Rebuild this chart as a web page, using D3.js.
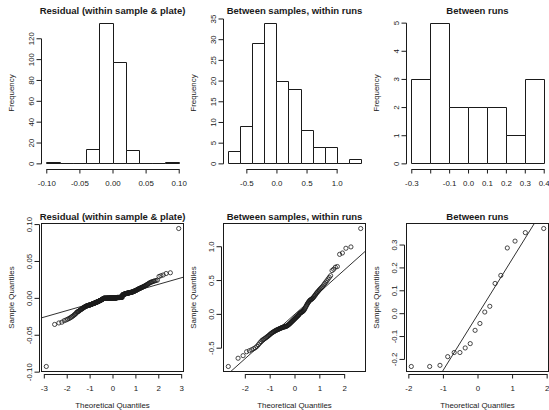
<!DOCTYPE html>
<html>
<head>
<meta charset="utf-8">
<script src="https://cdn.jsdelivr.net/npm/d3@7"></script>
<style>
  body { margin: 0; background: #fff; }
  svg { display: block; font-family: "Liberation Sans", Arial, sans-serif; opacity: 0.999; }
</style>
</head>
<body>
<svg width="549" height="410"></svg>
<script>
// residuals within sample & plate (n = 261)
const residual = [
  -0.0930,
  -0.0360, -0.0340, -0.0330, -0.0310, -0.0300, -0.0290, -0.0280, -0.0270, -0.0260, -0.0250, -0.0240, -0.0230, -0.0220, -0.0210,
  -0.0195, -0.0190, -0.0185, -0.0180, -0.0172, -0.0165, -0.0160, -0.0155, -0.0150, -0.0145, -0.0140, -0.0135, -0.0130, -0.0126,
  -0.0122, -0.0119, -0.0116, -0.0113, -0.0110, -0.0108, -0.0106, -0.0104, -0.0102, -0.0100, -0.0099, -0.0098, -0.0097, -0.0096,
  -0.0094, -0.0092, -0.0090, -0.0088, -0.0086, -0.0084, -0.0082,
  -0.0080, -0.0078, -0.0076, -0.0075, -0.0074, -0.0073, -0.0072, -0.0070, -0.0068, -0.0066,
  -0.0064, -0.0062, -0.0060, -0.0058, -0.0056, -0.0055, -0.0054, -0.0053, -0.0052, -0.0050,
  -0.0048, -0.0046, -0.0044, -0.0042, -0.0040, -0.0038, -0.0036, -0.0035, -0.0034, -0.0032,
  -0.0030, -0.0028, -0.0026, -0.0024, -0.0022, -0.0020, -0.0018, -0.0015, -0.0012, -0.0010, -0.0008, -0.0006,
  -0.0005, -0.0005, -0.0005, -0.0005, -0.0005, -0.0005, -0.0005, -0.0005, -0.0005, -0.0005,
  -0.0004, -0.0004, -0.0004, -0.0004, -0.0004, -0.0004, -0.0004, -0.0004, -0.0004, -0.0004,
  -0.0003, -0.0003, -0.0003, -0.0003, -0.0003, -0.0003, -0.0003, -0.0003, -0.0003, -0.0003,
  -0.0002, -0.0002, -0.0002, -0.0002, -0.0002, -0.0002, -0.0002, -0.0002, -0.0002, -0.0002,
  -0.0001, -0.0001, -0.0001, -0.0001, -0.0001, -0.0001, -0.0001, -0.0001, -0.0001,
  -0.0001, -0.0001, -0.0001, -0.0001, -0.0001, -0.0001, -0.0001, -0.0001, -0.0001,
  0.0005, 0.0005, 0.0005, 0.0005, 0.0005, 0.0005, 0.0005, 0.0005, 0.0005, 0.0005, 0.0005, 0.0005,
  0.0008, 0.0008, 0.0008, 0.0008, 0.0008, 0.0008, 0.0008, 0.0008, 0.0008, 0.0008, 0.0008, 0.0008,
  0.0040, 0.0042, 0.0043, 0.0045, 0.0046, 0.0047, 0.0048, 0.0050, 0.0051, 0.0052, 0.0053, 0.0054, 0.0055, 0.0057, 0.0058,
  0.0059, 0.0060, 0.0061, 0.0062, 0.0063, 0.0064, 0.0065, 0.0066, 0.0066, 0.0067, 0.0068,
  0.0069, 0.0070, 0.0071, 0.0072, 0.0073, 0.0074, 0.0075, 0.0076, 0.0077, 0.0078, 0.0080, 0.0081, 0.0083, 0.0085,
  0.0087, 0.0089, 0.0091, 0.0093, 0.0095, 0.0097, 0.0099, 0.0102, 0.0105,
  0.0108, 0.0111, 0.0114, 0.0117, 0.0120, 0.0123, 0.0126, 0.0128,
  0.0131, 0.0134, 0.0137, 0.0140, 0.0143, 0.0147, 0.0150,
  0.0154, 0.0158, 0.0162, 0.0167, 0.0172, 0.0178,
  0.0184, 0.0190, 0.0197,
  0.0205, 0.0210, 0.0215, 0.0220, 0.0225, 0.0230, 0.0235, 0.0240, 0.0290, 0.0300, 0.0310, 0.0330, 0.0340,
  0.0940
];

// between samples, within runs (n = 130)
const betweenSamples = [
  -0.778, -0.656, -0.618,
  -0.560, -0.545, -0.530, -0.515, -0.500, -0.480, -0.455, -0.430, -0.410,
  -0.390, -0.380, -0.370, -0.360, -0.350, -0.340, -0.330, -0.320, -0.310, -0.300,
  -0.290, -0.282, -0.275, -0.268, -0.262, -0.256, -0.250, -0.245, -0.240, -0.236,
  -0.232, -0.228, -0.224, -0.220, -0.216, -0.212, -0.208, -0.205, -0.202,
  -0.198, -0.196, -0.194, -0.192, -0.190, -0.188, -0.185, -0.182, -0.178, -0.174,
  -0.168, -0.162, -0.156, -0.150, -0.143, -0.136, -0.129, -0.122, -0.115, -0.108,
  -0.101, -0.094, -0.087, -0.080, -0.073, -0.066, -0.059, -0.052, -0.045, -0.038,
  -0.031, -0.024, -0.017, -0.010,
  0.005, 0.010, 0.015, 0.020, 0.025, 0.030, 0.035, 0.040, 0.048, 0.058,
  0.070, 0.085, 0.100, 0.115, 0.130, 0.145, 0.158, 0.170, 0.182, 0.194,
  0.203, 0.208, 0.213, 0.220, 0.228, 0.238, 0.250, 0.262, 0.275, 0.290,
  0.305, 0.317, 0.330, 0.343, 0.356, 0.369, 0.382, 0.395,
  0.410, 0.430, 0.450, 0.470, 0.490, 0.515, 0.540, 0.565,
  0.640, 0.660, 0.690, 0.700,
  0.880, 0.900, 0.970, 0.990,
  1.262
];

// between runs (n = 18)
const betweenRuns = [
  -0.233, -0.233, -0.228, -0.190, -0.172, -0.172, -0.152, -0.133, -0.075,
  -0.045, 0.005, 0.030, 0.130, 0.165, 0.285, 0.315, 0.352, 0.370
];

const residualBreaks = [-0.10, -0.08, -0.06, -0.04, -0.02, 0, 0.02, 0.04, 0.06, 0.08, 0.10];
const samplesBreaks = [-0.8, -0.6, -0.4, -0.2, 0, 0.2, 0.4, 0.6, 0.8, 1.0, 1.2, 1.4];
const runsBreaks = [-0.3, -0.2, -0.1, 0, 0.1, 0.2, 0.3, 0.4];

const titles = ['Residual (within sample & plate)', 'Between samples, within runs', 'Between runs'];

const histXTicks = [[-0.10, -0.05, 0, 0.05, 0.10], [-0.5, 0, 0.5, 1.0], [-0.3, -0.2, -0.1, 0, 0.1, 0.2, 0.3, 0.4]];
const histXHidden = [[], [], [-0.2]];
const histYTicks = [[0, 20, 40, 60, 80, 100, 120], [0, 5, 10, 15, 20, 25, 30, 35], [0, 1, 2, 3, 4, 5]];
const qqXTicks = [[-3, -2, -1, 0, 1, 2, 3], [-2, -1, 0, 1, 2], [-2, -1, 0, 1, 2]];
const qqYTicks = [[-0.10, -0.05, 0, 0.05, 0.10], [-0.5, 0, 0.5, 1.0], [-0.2, -0.1, 0, 0.1, 0.2, 0.3]];
const tickFormats = ['.2f', '.1f', '.1f'];

const samples = [residual, betweenSamples, betweenRuns];
const breaks = [residualBreaks, samplesBreaks, runsBreaks];

// layout (device px)
const colLeft = [41, 223, 406];
const plotW = 143;
const rowTop = [17, 223];
const plotH = [152, 149];
const ink = '#1a1a1a';

const fmt = d3.formatLocale({decimal: '.', thousands: ',', grouping: [3], currency: ['', ''], minus: '-'});
const svg = d3.select('svg');
const crisp = v => Math.round(v) + 0.5;

// inverse normal CDF (Acklam)
function qnorm(p) {
  const a = [-3.969683028665376e+01, 2.209460984245205e+02, -2.759285104469687e+02, 1.383577518672690e+02, -3.066479806614716e+01, 2.506628277459239e+00];
  const b = [-5.447609879822406e+01, 1.615858368580409e+02, -1.556989798598866e+02, 6.680131188771972e+01, -1.328068155288572e+01];
  const c = [-7.784894002430293e-03, -3.223964580411365e-01, -2.400758277161838e+00, -2.549732539343734e+00, 4.374664141464968e+00, 2.938163982698783e+00];
  const d = [7.784695709041462e-03, 3.224671290700398e-01, 2.445134137142996e+00, 3.754408661907416e+00];
  const lo = 0.02425;
  if (p < lo || p > 1 - lo) {
    const q = Math.sqrt(-2 * Math.log(p < lo ? p : 1 - p));
    const v = (((((c[0]*q + c[1])*q + c[2])*q + c[3])*q + c[4])*q + c[5]) / ((((d[0]*q + d[1])*q + d[2])*q + d[3])*q + 1);
    return p < lo ? v : -v;
  }
  const q = p - 0.5, r = q * q;
  return (((((a[0]*r + a[1])*r + a[2])*r + a[3])*r + a[4])*r + a[5])*q / (((((b[0]*r + b[1])*r + b[2])*r + b[3])*r + b[4])*r + 1);
}

// R style range: data extent padded by 4%
function padded([lo, hi]) {
  const e = (hi - lo) * 0.04;
  return [lo - e, hi + e];
}

function styleAxis(ax) {
  ax.attr('font-size', null).attr('font-family', null).attr('color', ink);
  ax.selectAll('.tick text').style('font-size', '7.9px');
}

function xAxis(g, x, ticks, f, y, hidden = []) {
  const ax = g.append('g')
      .attr('transform', `translate(0,${y})`)
      .call(d3.axisBottom(x).tickValues(ticks).tickSize(4.5).tickPadding(6.5)
        .tickFormat(d => hidden.includes(d) ? '' : fmt.format(f)(d)));
  ax.select('.domain').attr('d', `M${x(ticks[0]) + 0.5},0.5H${x(ticks[ticks.length - 1]) + 0.5}`);
  styleAxis(ax);
}

function yAxis(g, y, ticks, f, x) {
  const ax = g.append('g')
      .attr('transform', `translate(${x},0)`)
      .call(d3.axisLeft(y).tickValues(ticks).tickSize(4.5).tickFormat(fmt.format(f)));
  ax.select('.domain').attr('d', `M0.5,${y(ticks[0]) + 0.5}V${y(ticks[ticks.length - 1]) + 0.5}`);
  ax.selectAll('.tick line').attr('x1', 0.5);
  ax.selectAll('.tick text')
      .attr('x', null).attr('dy', null)
      .attr('text-anchor', 'middle')
      .attr('transform', 'translate(-7.5,0) rotate(-90)');
  styleAxis(ax);
}

function labels(g, row, col, title, xlab, ylab) {
  const left = colLeft[col], top = rowTop[row], h = plotH[row];
  g.append('text')
      .attr('x', left + plotW / 2).attr('y', top - 3)
      .attr('text-anchor', 'middle')
      .style('font-size', '9.5px').style('font-weight', 'bold')
      .attr('fill', ink)
      .text(title);
  if (xlab) {
    g.append('text')
        .attr('x', left + plotW / 2).attr('y', top + h + 35.5)
        .attr('text-anchor', 'middle')
        .style('font-size', '7.9px').attr('fill', ink)
        .text(xlab);
  }
  g.append('text')
      .attr('transform', `translate(${left - 27},${top + h / 2}) rotate(-90)`)
      .attr('text-anchor', 'middle')
      .style('font-size', '7.9px').attr('fill', ink)
      .text(ylab);
}

// histograms (top row)
samples.forEach((values, col) => {
  const g = svg.append('g');
  const br = breaks[col];
  const left = colLeft[col], top = rowTop[0], h = plotH[0];
  const bins = d3.bin()
      .domain([br[0], br[br.length - 1]])
      .thresholds(br.slice(1, -1))(values);

  const x = d3.scaleLinear().domain(padded([br[0], br[br.length - 1]])).range([left, left + plotW]);
  const y = d3.scaleLinear().domain(padded([0, d3.max(bins, b => b.length)])).range([top + h, top]);

  // paths rather than rects so that empty bins still show their baseline
  g.selectAll('path.bar')
    .data(bins)
    .enter()
    .append('path')
      .classed('bar', true)
      .attr('d', b => {
        const x0 = crisp(x(b.x0)), x1 = crisp(x(b.x1));
        const y0 = crisp(y(0)), y1 = crisp(y(b.length));
        return `M${x0},${y0}V${y1}H${x1}V${y0}Z`;
      })
      .attr('fill', '#fff')
      .attr('stroke', ink)
      .attr('stroke-width', 1);

  xAxis(g, x, histXTicks[col], tickFormats[col], top + h, histXHidden[col]);
  yAxis(g, y, histYTicks[col], 'd', left);
  labels(g, 0, col, titles[col], null, 'Frequency');
});

// normal QQ plots (bottom row)
samples.forEach((values, col) => {
  const g = svg.append('g');
  const left = colLeft[col], top = rowTop[1], h = plotH[1];
  const sorted = values.slice().sort(d3.ascending);
  const n = sorted.length;
  const pts = sorted.map((v, i) => ({q: qnorm((i + 0.5) / n), v}));   // ppoints for n > 10

  const x = d3.scaleLinear().domain(padded(d3.extent(pts, d => d.q))).range([left, left + plotW]);
  const y = d3.scaleLinear().domain(padded(d3.extent(pts, d => d.v))).range([top + h, top]);

  const clipId = `clip${col}`;
  g.append('clipPath').attr('id', clipId)
    .append('rect').attr('x', left).attr('y', top).attr('width', plotW).attr('height', h);

  // qqline through the quartiles
  const t1 = qnorm(0.25), t3 = qnorm(0.75);
  const q1 = d3.quantileSorted(sorted, 0.25), q3 = d3.quantileSorted(sorted, 0.75);
  const slope = (q3 - q1) / (t3 - t1);
  const icpt = q1 - slope * t1;
  const [xa, xb] = x.domain();
  g.append('line')
      .attr('clip-path', `url(#${clipId})`)
      .attr('x1', x(xa)).attr('y1', y(icpt + slope * xa))
      .attr('x2', x(xb)).attr('y2', y(icpt + slope * xb))
      .attr('stroke', ink).attr('stroke-width', 0.9);

  g.selectAll('circle')
    .data(pts)
    .enter()
    .append('circle')
      .attr('cx', d => x(d.q))
      .attr('cy', d => y(d.v))
      .attr('r', 2.1)
      .attr('fill', 'none')
      .attr('stroke', ink)
      .attr('stroke-width', 0.8);

  g.append('rect')
      .attr('x', left + 0.5).attr('y', top + 0.5)
      .attr('width', plotW - 1).attr('height', h - 1)
      .attr('fill', 'none').attr('stroke', ink);

  xAxis(g, x, qqXTicks[col], 'd', top + h + 2);
  yAxis(g, y, qqYTicks[col], tickFormats[col], left - 2);
  labels(g, 1, col, titles[col], 'Theoretical Quantiles', 'Sample Quantiles');
});
</script>
</body>
</html>
